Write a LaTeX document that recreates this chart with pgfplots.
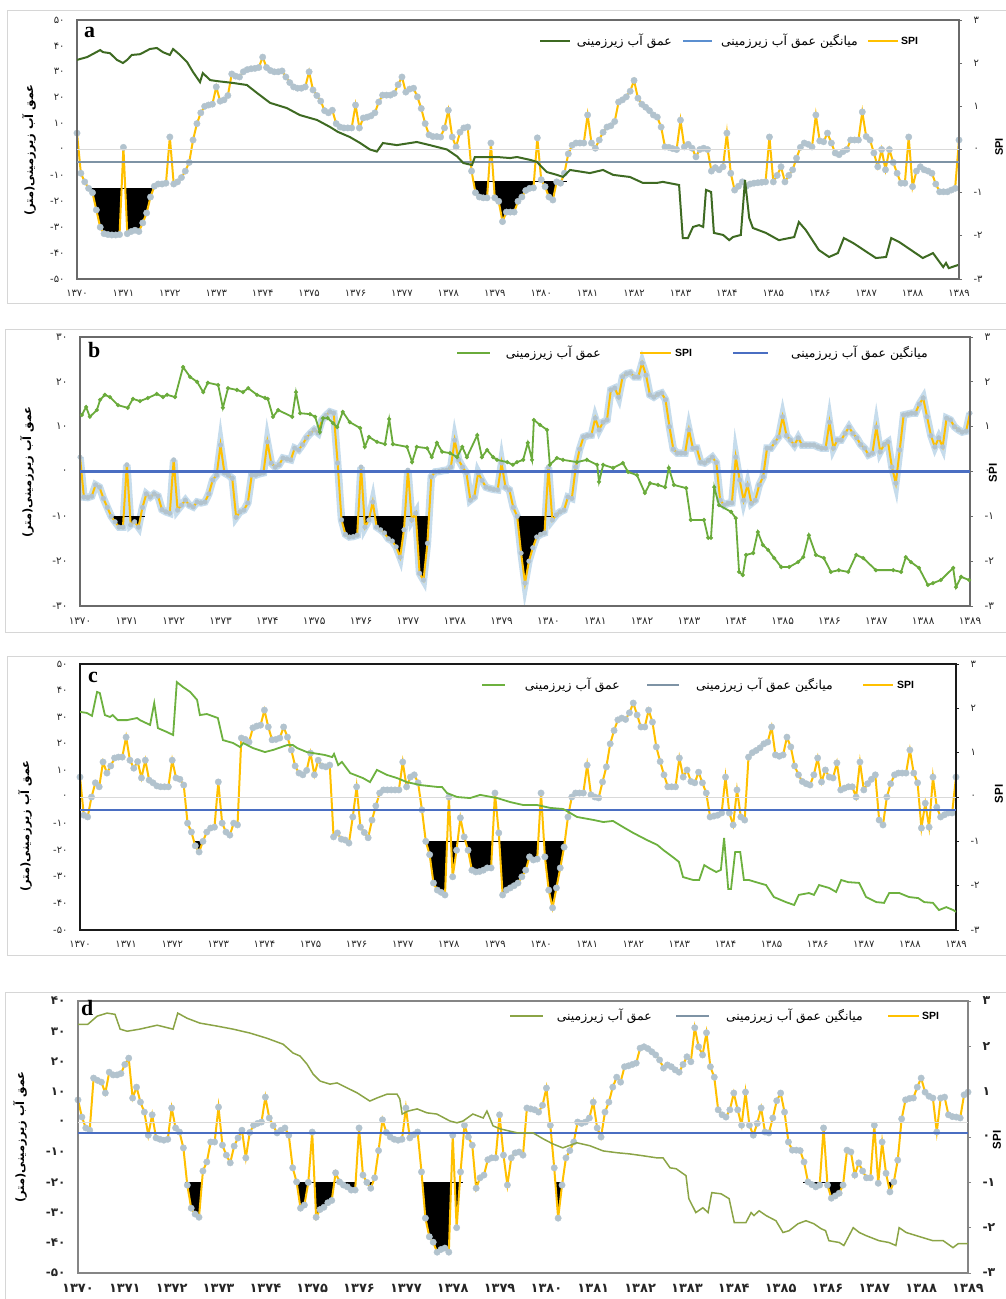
\documentclass[border=0pt]{standalone}
\usepackage{fontspec}
\setmainfont{Liberation Serif}
\newfontfamily\arabicfont[Script=Arabic]{DejaVu Sans}
\newfontfamily\dvs{DejaVu Sans}
\newfontfamily\lsans{Liberation Sans}
\usepackage{pgfplots}
\usepackage{pgfplotstable}
\pgfplotsset{compat=1.18}
\TeXXeTstate=1
\newcommand{\fa}[1]{{\arabicfont\beginR #1\endR}}
\newcommand{\mn}{{\dvs -}}
\definecolor{gA}{HTML}{3E6A22}
\definecolor{gB}{HTML}{6AAB3B}
\definecolor{gC}{HTML}{6DB13F}
\definecolor{gD}{HTML}{8BA446}
\definecolor{dotB}{HTML}{E2703A}
\definecolor{spiY}{HTML}{FFC000}
\definecolor{spiG}{HTML}{B2C3CE}
\definecolor{haloB}{HTML}{C6DCEC}
\definecolor{meanA}{HTML}{7E93A5}
\definecolor{meanB}{HTML}{4A6EC2}
\definecolor{legBlue}{HTML}{5B8FD0}
\definecolor{frameC}{HTML}{D6D6D6}
\definecolor{axA}{HTML}{6A6A6A}
\definecolor{axC}{HTML}{1A1A1A}
\definecolor{axD}{HTML}{858585}

\pgfplotsset{
  yrs/.style={xtick={1370,1371,1372,1373,1374,1375,1376,1377,1378,1379,1380,1381,1382,1383,1384,1385,1386,1387,1388,1389},
    xticklabels={۱۳۷۰,۱۳۷۱,۱۳۷۲,۱۳۷۳,۱۳۷۴,۱۳۷۵,۱۳۷۶,۱۳۷۷,۱۳۷۸,۱۳۷۹,۱۳۸۰,۱۳۸۱,۱۳۸۲,۱۳۸۳,۱۳۸۴,۱۳۸۵,۱۳۸۶,۱۳۸۷,۱۳۸۸,۱۳۸۹}},
  lax/.style 2 args={scale only axis, xmin=1370, xmax=1389, yrs,
    axis line style={draw=#1, line width=1.2bp}, major tick length=0pt,
    tick label style={font=\arabicfont\fontsize{#2}{#2}\selectfont, text=black!85},
    xticklabel style={yshift=-8bp}, yticklabel style={xshift=-9bp}},
  rax/.style 2 args={scale only axis, xmin=1370, xmax=1389, axis x line=none, axis y line*=right,
    ymin=-3, ymax=3, ytick={-3,-2,-1,0,1,2,3}, yticklabels={\mn۳,\mn۲,\mn۱,۰,۱,۲,۳},
    axis line style={draw=#1, line width=1.2bp}, tick style={draw=#1, line width=0.8bp},
    major tick length=3bp, tick align=outside,
    yticklabel style={font=\arabicfont\fontsize{#2}{#2}\selectfont, text=black!85, xshift=8bp}},
  blk/.style={hide axis, scale only axis, ymin=-3, clip=true},
  spiline/.style={spiY, line width=2bp},
  spimarks/.style={only marks, mark=*, color=spiG, mark size=3.2bp},
  thrline/.style={black, line width=0.8bp},
  lab50/.style={ymin=-50, ymax=50, ytick={-50,-40,-30,-20,-10,0,10,20,30,40,50},
    yticklabels={\mn۵۰,\mn۴۰,\mn۳۰,\mn۲۰,\mn۱۰,۰,۱۰,۲۰,۳۰,۴۰,۵۰}},
}

\pgfplotstableread[row sep=\\]{s\\
0.38\\ -0.55\\ -0.75\\ -0.9\\ -1.0\\ -1.4\\ -1.8\\ -1.95\\ -1.97\\ -1.98\\
-1.98\\ -1.97\\ 0.05\\ -1.95\\ -1.9\\ -1.87\\ -1.9\\ -1.7\\ -1.47\\ -1.1\\
-0.85\\ -0.8\\ -0.8\\ -0.78\\ 0.29\\ -0.8\\ -0.75\\ -0.65\\ -0.5\\ -0.3\\
0.22\\ 0.6\\ 0.85\\ 1.0\\ 1.03\\ 1.05\\ 1.45\\ 1.12\\ 1.15\\ 1.25\\
1.75\\ 1.7\\ 1.68\\ 1.8\\ 1.85\\ 1.87\\ 1.88\\ 1.9\\ 2.14\\ 1.9\\
1.83\\ 1.8\\ 1.8\\ 1.82\\ 1.68\\ 1.55\\ 1.45\\ 1.42\\ 1.42\\ 1.45\\
1.8\\ 1.38\\ 1.25\\ 1.12\\ 0.9\\ 0.85\\ 0.91\\ 0.6\\ 0.52\\ 0.5\\
0.5\\ 0.5\\ 1.03\\ 0.5\\ 0.73\\ 0.75\\ 0.78\\ 0.85\\ 1.1\\ 1.26\\
1.26\\ 1.26\\ 1.3\\ 1.5\\ 1.68\\ 1.33\\ 1.4\\ 1.42\\ 1.22\\ 0.95\\
0.6\\ 0.34\\ 0.3\\ 0.3\\ 0.29\\ 0.5\\ 0.91\\ 0.29\\ 0.06\\ 0.4\\
0.5\\ 0.52\\ -0.5\\ -1.0\\ -1.1\\ -1.12\\ -1.12\\ 0.15\\ -1.12\\ -1.2\\
-1.67\\ -1.45\\ -1.45\\ -1.45\\ -1.2\\ -1.1\\ -0.95\\ -0.9\\ -0.89\\ 0.27\\
-0.7\\ -0.86\\ -1.1\\ -1.17\\ -0.75\\ -0.78\\ -0.55\\ -0.1\\ 0.1\\ 0.15\\
0.15\\ 0.15\\ 0.8\\ 0.15\\ 0.03\\ 0.22\\ 0.4\\ 0.52\\ 0.55\\ 0.65\\
1.1\\ 1.15\\ 1.22\\ 1.35\\ 1.6\\ 1.19\\ 1.05\\ 0.98\\ 0.9\\ 0.8\\
0.75\\ 0.52\\ 0.06\\ 0.05\\ 0.02\\ 0\\ 0.68\\ 0.06\\ 0.12\\ 0.03\\
-0.17\\ 0\\ 0.03\\ 0\\ -0.5\\ -0.42\\ -0.47\\ -0.4\\ 0.38\\ -0.55\\
-0.94\\ -0.85\\ -0.75\\ -0.85\\ -0.8\\ -0.78\\ -0.77\\ -0.76\\ -0.75\\ 0.29\\
-0.75\\ -0.6\\ -0.4\\ -0.75\\ -0.6\\ -0.47\\ -0.2\\ 0.05\\ 0.15\\ 0.12\\
0.06\\ 0.8\\ 0.2\\ 0.18\\ 0.38\\ 0.15\\ -0.08\\ -0.12\\ -0.05\\ 0\\
0.22\\ 0.22\\ 0.22\\ 0.87\\ 0.3\\ 0.22\\ -0.08\\ -0.4\\ 0\\ -0.47\\
0\\ -0.3\\ -0.55\\ -0.78\\ -0.78\\ 0.29\\ -0.86\\ -0.5\\ -0.4\\ -0.47\\
-0.5\\ -0.55\\ -0.8\\ -0.98\\ -0.98\\ -0.98\\ -0.94\\ -0.9\\ 0.22\\
}\spiA

\pgfplotstableread[row sep=\\]{s\\
0.32\\ -0.57\\ -0.58\\ -0.55\\ -0.3\\ -0.35\\ -0.6\\ -0.8\\ -1.0\\ -1.12\\
-1.24\\ -1.24\\ 0.15\\ -1.19\\ -1.12\\ -1.24\\ -0.8\\ -0.5\\ -0.57\\ -0.5\\
-0.55\\ -0.85\\ -0.9\\ -0.93\\ 0.26\\ -0.86\\ -0.75\\ -0.64\\ -0.75\\ -0.79\\
-0.68\\ -0.7\\ -0.68\\ -0.5\\ -0.19\\ -0.08\\ 0.59\\ -0.03\\ -0.08\\ -0.15\\
-1.02\\ -0.9\\ -0.86\\ -0.7\\ -0.08\\ -0.08\\ -0.05\\ -0.03\\ 0.66\\ 0.19\\
0.1\\ 0.15\\ 0.3\\ 0.28\\ 0.26\\ 0.52\\ 0.48\\ 0.6\\ 0.75\\ 0.85\\
0.93\\ 0.86\\ 1.15\\ 1.25\\ 1.33\\ 1.3\\ 0.19\\ -1.08\\ -1.4\\ -1.46\\
-1.45\\ -1.42\\ 0.1\\ -1.24\\ -1.08\\ -0.68\\ -1.24\\ -1.3\\ -1.37\\ -1.5\\
-1.55\\ -1.68\\ -1.91\\ -1.3\\ 0.03\\ -1.08\\ -0.93\\ -2.27\\ -2.42\\ -1.6\\
-0.12\\ -0.01\\ 0\\ 0.02\\ 0.03\\ 0.1\\ 0.7\\ 0.26\\ 0.1\\ -0.03\\
-0.64\\ -0.57\\ -0.03\\ -0.2\\ -0.35\\ -0.38\\ -0.4\\ -0.41\\ 0.19\\ -0.35\\
-0.41\\ -0.8\\ -1.0\\ -1.82\\ -2.49\\ -2.0\\ -1.7\\ -1.46\\ -1.4\\ -1.37\\
0.1\\ -1.08\\ -0.97\\ -0.9\\ -0.86\\ -0.57\\ -0.6\\ 0.1\\ 0.5\\ 0.77\\
0.8\\ 0.81\\ 1.19\\ 0.93\\ 1.1\\ 1.15\\ 1.82\\ 1.86\\ 1.66\\ 2.11\\
2.18\\ 2.2\\ 2.11\\ 2.11\\ 2.42\\ 2.15\\ 1.71\\ 1.66\\ 1.72\\ 1.75\\
1.6\\ 1.0\\ 0.5\\ 0.41\\ 0.41\\ 0.41\\ 0.93\\ 0.52\\ 0.52\\ 0.21\\
0.19\\ 0.25\\ 0.32\\ 0.2\\ -0.64\\ -0.75\\ -0.71\\ -0.7\\ 0.32\\ -0.19\\
-0.64\\ -0.3\\ -0.71\\ -0.64\\ -0.3\\ -0.12\\ 0.52\\ 0.52\\ 0.65\\ 0.77\\
1.22\\ 0.8\\ 0.7\\ 0.59\\ 0.75\\ 0.59\\ 0.59\\ 0.59\\ 0.59\\ 0.55\\
0.52\\ 0.52\\ 1.1\\ 0.52\\ 0.7\\ 0.7\\ 0.85\\ 0.99\\ 0.85\\ 0.75\\
0.6\\ 0.52\\ 0.37\\ 0.41\\ 0.99\\ 0.44\\ 0.6\\ 0.66\\ 0.1\\ -0.26\\
0.48\\ 1.26\\ 1.28\\ 1.3\\ 1.3\\ 1.5\\ 1.64\\ 1.22\\ 0.8\\ 0.55\\
0.75\\ 0.55\\ 1.19\\ 1.15\\ 1.0\\ 0.93\\ 0.88\\ 0.9\\ 1.3\\
}\spiB

\pgfplotstableread[row sep=\\]{s\\
0.45\\ -0.41\\ -0.45\\ 0\\ 0.32\\ 0.23\\ 0.79\\ 0.54\\ 0.7\\ 0.88\\
0.9\\ 0.9\\ 1.35\\ 0.83\\ 0.65\\ 0.8\\ 0.43\\ 0.83\\ 0.38\\ 0.32\\
0.25\\ 0.23\\ 0.23\\ 0.23\\ 0.83\\ 0.43\\ 0.4\\ 0.27\\ -0.59\\ -0.79\\
-1.1\\ -1.24\\ -1.0\\ -0.79\\ -0.7\\ -0.68\\ 0.34\\ -0.59\\ -0.79\\ -0.86\\
-0.59\\ -0.63\\ 1.33\\ 1.3\\ 1.24\\ 1.56\\ 1.6\\ 1.62\\ 1.96\\ 1.58\\
1.29\\ 1.3\\ 1.33\\ 1.58\\ 1.35\\ 1.06\\ 0.7\\ 0.54\\ 0.5\\ 0.6\\
0.99\\ 0.5\\ 0.83\\ 0.7\\ 0.68\\ 0.72\\ -0.9\\ -0.81\\ -0.95\\ -0.97\\
-1.04\\ -0.45\\ 0.23\\ -0.68\\ -0.8\\ -0.92\\ -0.52\\ -0.2\\ 0.09\\ 0.16\\
0.16\\ 0.16\\ 0.16\\ 0.16\\ 0.79\\ 0.23\\ 0.45\\ 0.5\\ 0.32\\ -0.29\\
-1.0\\ -1.3\\ -1.94\\ -2.1\\ -2.15\\ -2.21\\ 0\\ -1.8\\ -1.2\\ -0.47\\
-0.9\\ -1.2\\ -1.65\\ -1.69\\ -1.68\\ -1.65\\ -1.6\\ -1.6\\ 0.09\\ -0.81\\
-2.21\\ -2.1\\ -2.05\\ -2.0\\ -1.94\\ -1.8\\ -1.65\\ -1.35\\ -1.42\\ -1.4\\
0.09\\ -1.35\\ -2.1\\ -2.5\\ -2.05\\ -1.6\\ -1.13\\ -0.45\\ 0\\ 0.09\\
0.09\\ 0.09\\ 0.72\\ 0.05\\ 0\\ -0.02\\ 0.34\\ 0.68\\ 1.2\\ 1.5\\
1.74\\ 1.78\\ 1.75\\ 1.9\\ 2.12\\ 1.85\\ 1.58\\ 1.58\\ 1.96\\ 1.69\\
1.13\\ 0.8\\ 0.5\\ 0.23\\ 0.23\\ 0.23\\ 0.88\\ 0.45\\ 0.61\\ 0.35\\
0.32\\ 0.56\\ 0.32\\ 0.09\\ -0.45\\ -0.43\\ -0.41\\ -0.36\\ 0.45\\ -0.36\\
-0.63\\ 0.16\\ -0.45\\ -0.52\\ 0.9\\ 1.0\\ 1.05\\ 1.11\\ 1.2\\ 1.24\\
1.58\\ 0.95\\ 0.92\\ 0.95\\ 1.35\\ 1.13\\ 0.7\\ 0.5\\ 0.35\\ 0.3\\
0.27\\ 0.5\\ 0.88\\ 0.34\\ 0.61\\ 0.45\\ 0.43\\ 0.77\\ 0.16\\ 0.2\\
0.23\\ 0.23\\ 0\\ 0.79\\ 0.16\\ 0.3\\ 0.4\\ 0.5\\ -0.52\\ -0.63\\
0\\ 0.3\\ 0.5\\ 0.54\\ 0.54\\ 0.54\\ 1.06\\ 0.54\\ 0.32\\ -0.7\\
-0.14\\ -0.68\\ 0.45\\ -0.23\\ -0.45\\ -0.4\\ -0.36\\ -0.36\\ 0.45\\
}\spiC

\pgfplotstableread[row sep=\\]{s\\
0.82\\ 0.44\\ 0.2\\ 0.15\\ 1.3\\ 1.25\\ 1.21\\ 0.97\\ 1.43\\ 1.37\\
1.37\\ 1.4\\ 1.6\\ 1.74\\ 0.86\\ 1.1\\ 0.77\\ 0.55\\ 0.04\\ 0.49\\
-0.02\\ -0.05\\ -0.07\\ -0.05\\ 0.64\\ 0.2\\ 0.11\\ -0.24\\ -1.06\\ -1.57\\
-1.7\\ -1.77\\ -0.75\\ -0.55\\ -0.11\\ -0.11\\ 0.66\\ -0.18\\ -0.4\\ -0.57\\
-0.2\\ -0.02\\ 0.15\\ -0.46\\ 0.1\\ 0.26\\ 0.3\\ 0.33\\ 0.88\\ 0.42\\
0.25\\ 0.09\\ 0.15\\ 0.2\\ 0.04\\ -0.68\\ -0.99\\ -1.57\\ -1.5\\ -1.0\\
0.11\\ -1.77\\ -1.6\\ -1.55\\ -1.45\\ -1.4\\ -0.79\\ -0.99\\ -1.06\\ -1.1\\
-1.17\\ -1.17\\ 0.2\\ -0.84\\ -1.0\\ -1.13\\ -0.9\\ -0.3\\ 0.38\\ 0.1\\
0\\ -0.05\\ -0.07\\ -0.05\\ 0.64\\ -0.02\\ 0.05\\ 0.11\\ -0.77\\ -1.79\\
-2.2\\ -2.32\\ -2.54\\ -2.48\\ -2.45\\ -2.54\\ 0.04\\ -2.0\\ -0.77\\ 0.26\\
0.0\\ -0.18\\ -1.13\\ -0.9\\ -0.84\\ -0.5\\ -0.46\\ -0.46\\ 0.49\\ -0.4\\
-1.06\\ -0.46\\ -0.35\\ -0.33\\ -0.4\\ 0.64\\ 0.62\\ 0.6\\ 0.55\\ 0.7\\
1.08\\ 0.26\\ -0.68\\ -1.79\\ -1.06\\ -0.46\\ -0.3\\ -0.11\\ 0.33\\ 0.3\\
0.33\\ 0.42\\ 0.77\\ 0.2\\ 0\\ 0.55\\ 0.77\\ 1.1\\ 1.32\\ 1.21\\
1.55\\ 1.57\\ 1.6\\ 1.63\\ 1.96\\ 1.99\\ 1.95\\ 1.88\\ 1.81\\ 1.7\\
1.52\\ 1.59\\ 1.55\\ 1.48\\ 1.43\\ 1.6\\ 1.77\\ 1.66\\ 2.41\\ 1.99\\
1.81\\ 2.3\\ 1.55\\ 1.32\\ 0.6\\ 0.49\\ 0.44\\ 0.6\\ 0.97\\ 0.6\\
0.26\\ 0.99\\ 0.26\\ 0.04\\ 0.3\\ 0.64\\ 0.11\\ 0.09\\ 0.42\\ 0.8\\
0.97\\ 0.55\\ -0.11\\ -0.29\\ -0.29\\ -0.3\\ -0.55\\ -0.99\\ -1.05\\ -1.1\\
-1.06\\ 0.2\\ -1.06\\ -1.35\\ -1.3\\ -1.24\\ -1.06\\ -0.29\\ -0.33\\ -0.84\\
-0.57\\ -0.75\\ -0.9\\ -0.9\\ 0.26\\ -1.02\\ -0.11\\ -0.8\\ -1.21\\ -0.99\\
-0.51\\ 0.4\\ 0.82\\ 0.85\\ 0.86\\ 1.1\\ 1.3\\ 0.99\\ 0.9\\ 0.86\\
0.11\\ 0.86\\ 0.88\\ 0.49\\ 0.45\\ 0.44\\ 0.42\\ 0.93\\ 0.99\\
}\spiD

\newcommand{\legfont}{\fontsize{12.5}{14}\selectfont}
\newcommand{\ylab}{\fa{عمق آب زیرزمینی(متر)}}
\newcommand{\lgA}{\fa{عمق آب زیرزمینی}}
\newcommand{\lgB}{\fa{میانگین عمق آب زیرزمینی}}
\newcommand{\spiT}{{\lsans\bfseries SPI}}
\newcommand{\blackfill}[1]{\addplot[fill=black, draw=none] table[x expr=1370+\coordindex/12, y=s] {#1} -- (axis cs:1389,4) -- (axis cs:1370,4) -- cycle;}

\begin{document}
\begin{tikzpicture}
\path[use as bounding box] (0,0) rectangle (1006bp,-1299bp);
% panel frames
\draw[frameC, line width=1bp] (7bp,-10bp) rectangle (1012bp,-303bp);
\draw[frameC, line width=1bp] (5bp,-329bp) rectangle (1012bp,-632bp);
\draw[frameC, line width=1bp] (7bp,-656bp) rectangle (1012bp,-955bp);
\draw[frameC, line width=1bp] (5bp,-992bp) rectangle (1012bp,-1310bp);

% ===================== PANEL A =====================
\begin{axis}[blk, xmin=1370, xmax=1372, ymax=-0.91, at={(77bp,-279bp)}, anchor=south west, width=92.84bp, height=90.22bp]
\blackfill{\spiA}
\end{axis}
\begin{axis}[blk, xmin=1378.3, xmax=1380.7, ymax=-0.75, at={(462.3bp,-279bp)}, anchor=south west, width=111.41bp, height=97.13bp]
\blackfill{\spiA}
\end{axis}
\begin{axis}[rax={axA}{10}, at={(77bp,-279bp)}, anchor=south west, width=882bp, height=259bp]
\addplot[thrline] coordinates {(1370.28,-0.91) (1371.62,-0.91)};
\addplot[thrline] coordinates {(1378.53,-0.75) (1380.56,-0.75)};
\addplot[spiline] table[x expr=1370+\coordindex/12, y=s] {\spiA};
\addplot[spimarks] table[x expr=1370+\coordindex/12, y=s] {\spiA};
\end{axis}
\begin{axis}[lax={axA}{10}, at={(77bp,-279bp)}, anchor=south west, width=882bp, height=259bp, lab50]
\addplot[gray!30, line width=0.8bp] coordinates {(1370,0) (1389,0)};
\addplot[meanA, line width=2bp] coordinates {(1370,-4.8) (1389,-4.8)};
\addplot[gA, line width=2bp] coordinates {(1370.0,34.6) (1370.22,35.7) (1370.5,38.4) (1370.56,37.6) (1370.71,37.2) (1370.86,34.6) (1370.99,33.4) (1371.08,34.6) (1371.18,36.5) (1371.36,36.8) (1371.57,38.8) (1371.72,39.2) (1371.85,37.6) (1372.0,36.5) (1372.07,38.8) (1372.22,36.5) (1372.37,33.8) (1372.5,29.9) (1372.65,26) (1372.71,29.5) (1372.87,26.8) (1373.02,26.4) (1373.36,25.7) (1373.66,24.9) (1373.88,21.8) (1374.16,18) (1374.52,16) (1374.8,13.3) (1375.17,11.4) (1375.45,8.7) (1375.62,6.8) (1375.88,4.8) (1376.1,2.5) (1376.31,0) (1376.46,-0.8) (1376.59,2.5) (1376.89,1.7) (1377.32,2.9) (1377.6,1.7) (1377.97,0) (1378.19,-2.7) (1378.32,-5.2) (1378.51,-6) (1378.57,-2.9) (1379.05,-2.9) (1379.33,-3.3) (1379.48,-2.9) (1379.76,-4) (1379.91,-4.8) (1379.97,-6) (1380.12,-8.7) (1380.34,-9.8) (1380.47,-10.6) (1380.62,-7.9) (1381.05,-9.1) (1381.33,-7.9) (1381.55,-9.8) (1381.91,-10.6) (1382.19,-12.9) (1382.49,-12.9) (1382.62,-12.5) (1382.97,-13.7) (1383.05,-34.2) (1383.16,-34.2) (1383.27,-29.9) (1383.4,-29.2) (1383.49,-29.9) (1383.55,-15.6) (1383.66,-16.4) (1383.72,-32.2) (1383.92,-33) (1384.05,-35) (1384.13,-33.8) (1384.3,-33) (1384.39,-11.8) (1384.48,-26.4) (1384.56,-30.3) (1384.84,-32.2) (1385.12,-35) (1385.45,-33.8) (1385.55,-28) (1385.7,-31.1) (1385.98,-38.8) (1386.2,-41.5) (1386.39,-40) (1386.52,-34.2) (1386.72,-36.1) (1387.21,-41.9) (1387.43,-41.5) (1387.54,-34.2) (1387.71,-35.7) (1388.22,-41.9) (1388.44,-40) (1388.66,-45.4) (1388.72,-43.8) (1388.78,-45.8) (1388.98,-44.6)};
\end{axis}
\node[anchor=base west, inner sep=0] at (84bp,-37bp) {\bfseries\fontsize{22}{22}\selectfont a};
\node[rotate=90, inner sep=0] at (29bp,-150bp) {\fontsize{11.5}{13}\selectfont\bfseries\ylab};
\node[rotate=90, inner sep=0] at (999bp,-147bp) {\fontsize{11}{12}\selectfont\spiT};
\draw[gA, line width=1.6bp] (540bp,-41bp) -- (570bp,-41bp);
\node[anchor=east, inner sep=0] at (672bp,-41bp) {\legfont\lgA};
\draw[legBlue, line width=1.6bp] (683bp,-41bp) -- (712bp,-41bp);
\node[anchor=east, inner sep=0] at (858bp,-41bp) {\legfont\lgB};
\draw[spiY, line width=1.6bp] (868bp,-41bp) -- (898bp,-41bp);
\node[anchor=west, inner sep=0] at (901bp,-41bp) {\fontsize{10.5}{12}\selectfont\spiT};

% ===================== PANEL B =====================
\begin{axis}[blk, xmin=1370, xmax=1389, ymax=3, at={(80bp,-606bp)}, anchor=south west, width=890bp, height=269bp]
\addplot[haloB, line width=7.5bp] table[x expr=1370+\coordindex/12, y=s] {\spiB};
\end{axis}
\begin{axis}[blk, xmin=1370, xmax=1389, ymax=-1, at={(80bp,-606bp)}, anchor=south west, width=890bp, height=89.67bp]
\blackfill{\spiB}
\end{axis}
\begin{axis}[rax={axA}{10.5}, at={(80bp,-606bp)}, anchor=south west, width=890bp, height=269bp]
\addplot[thrline] coordinates {(1370.64,-1) (1371.39,-1)};
\addplot[thrline] coordinates {(1375.61,-1) (1377.47,-1)};
\addplot[thrline] coordinates {(1379.29,-1) (1380.18,-1)};
\addplot[spiline] table[x expr=1370+\coordindex/12, y=s] {\spiB};
\addplot[only marks, mark=*, color=spiG, mark size=2.3bp] table[x expr=1370+\coordindex/12, y=s] {\spiB};
\end{axis}
\begin{axis}[lax={axA}{10.5}, at={(80bp,-606bp)}, anchor=south west, width=890bp, height=269bp,
  ymin=-30, ymax=30, ytick={-30,-20,-10,0,10,20,30},
  yticklabels={\mn۳۰,\mn۲۰,\mn۱۰,۰,۱۰,۲۰,۳۰}]
\addplot[gray!30, line width=0.8bp] coordinates {(1370,0) (1389,0)};
\addplot[meanB, line width=2.4bp] coordinates {(1370,0) (1389,0)};
\addplot[gB, line width=1.8bp, mark=*, mark size=1bp, mark options={fill=dotB, draw=none}] coordinates {(1370.04,12.6) (1370.13,14.4) (1370.21,12.2) (1370.36,13.7) (1370.43,16) (1370.53,17.1) (1370.64,16.6) (1370.81,14.8) (1371.02,14.2) (1371.13,16.2) (1371.28,15.7) (1371.45,16.4) (1371.64,17.3) (1371.77,16.6) (1371.86,17.1) (1372.03,16.6) (1372.2,23.3) (1372.35,21.1) (1372.5,20) (1372.63,17.7) (1372.73,19.8) (1372.95,19.3) (1373.05,14.2) (1373.16,18.6) (1373.35,18.2) (1373.48,17.7) (1373.59,18.6) (1373.78,17.1) (1373.95,16.4) (1374.01,16.2) (1374.12,12.2) (1374.23,13.7) (1374.53,12.2) (1374.61,17.7) (1374.7,13) (1374.91,12.8) (1375.02,12.2) (1375.12,8.8) (1375.19,11.9) (1375.29,11.9) (1375.4,10.8) (1375.49,9.9) (1375.61,13.3) (1375.76,11) (1375.98,9.7) (1376.08,5.5) (1376.17,7.7) (1376.34,6.6) (1376.51,6.1) (1376.6,11.7) (1376.68,6.1) (1376.98,5.5) (1377.09,2.1) (1377.19,5.5) (1377.41,5.2) (1377.51,3.2) (1377.62,6.4) (1377.73,4.4) (1377.9,4.1) (1378.05,3.2) (1378.16,5.5) (1378.26,3.2) (1378.48,8.1) (1378.58,3.2) (1378.69,4.8) (1378.82,3.2) (1378.9,2.6) (1379.12,2.1) (1379.24,1.5) (1379.33,2.1) (1379.46,2.6) (1379.56,6.4) (1379.65,2.6) (1379.69,11.5) (1379.82,10.4) (1379.97,9.3) (1380.03,1.5) (1380.18,3) (1380.31,2.6) (1380.61,2.1) (1380.82,2.6) (1381.04,1.5) (1381.08,-2.3) (1381.17,1.5) (1381.38,0.8) (1381.59,1.9) (1381.7,-0.1) (1381.89,-0.8) (1382.06,-4.8) (1382.17,-2.6) (1382.34,-3) (1382.49,-3.5) (1382.57,0.8) (1382.68,-3) (1382.94,-3.7) (1383.04,-10.8) (1383.32,-10.8) (1383.41,-14.8) (1383.47,-14.8) (1383.54,-3.5) (1383.64,-7.5) (1383.9,-9) (1384.0,-10.4) (1384.07,-22.4) (1384.15,-23.1) (1384.22,-18.6) (1384.37,-18.2) (1384.47,-13.5) (1384.58,-16.4) (1384.69,-17.5) (1384.82,-19.3) (1384.97,-21.3) (1385.14,-21.3) (1385.33,-20.2) (1385.44,-19.1) (1385.56,-14.2) (1385.71,-18.6) (1385.88,-19.3) (1386.03,-22.4) (1386.2,-22) (1386.4,-22.4) (1386.57,-18.6) (1386.72,-19.3) (1386.99,-22) (1387.36,-22) (1387.53,-22.4) (1387.63,-19.1) (1387.74,-20.2) (1387.91,-21.5) (1388.1,-25.3) (1388.21,-24.9) (1388.38,-24.2) (1388.64,-21.5) (1388.7,-25.8) (1388.81,-23.5) (1388.98,-24.2)};
\end{axis}
\node[anchor=base west, inner sep=0] at (88bp,-357bp) {\bfseries\fontsize{22}{22}\selectfont b};
\node[rotate=90, inner sep=0] at (27bp,-472bp) {\fontsize{11.5}{13}\selectfont\bfseries\ylab};
\node[rotate=90, inner sep=0] at (993bp,-473bp) {\fontsize{11.5}{12}\selectfont\spiT};
\draw[gB, line width=1.8bp] (457bp,-353bp) -- (490bp,-353bp);
\node[anchor=east, inner sep=0] at (601bp,-353bp) {\legfont\lgA};
\draw[spiY, line width=1.6bp] (640bp,-353bp) -- (671bp,-353bp);
\node[anchor=west, inner sep=0] at (675bp,-353bp) {\fontsize{10.5}{12}\selectfont\spiT};
\draw[meanB, line width=2bp] (733bp,-353bp) -- (768bp,-353bp);
\node[anchor=east, inner sep=0] at (928bp,-353bp) {\legfont\lgB};

% ===================== PANEL C =====================
\begin{axis}[blk, xmin=1370, xmax=1389, ymax=-1, at={(80bp,-930bp)}, anchor=south west, width=876bp, height=88.67bp]
\blackfill{\spiC}
\end{axis}
\begin{axis}[rax={axC}{10}, at={(80bp,-930bp)}, anchor=south west, width=876bp, height=266bp]
\addplot[thrline] coordinates {(1377.44,-1) (1380.48,-1)};
\addplot[spiline] table[x expr=1370+\coordindex/12, y=s] {\spiC};
\addplot[spimarks] table[x expr=1370+\coordindex/12, y=s] {\spiC};
\end{axis}
\begin{axis}[lax={axC}{10}, at={(80bp,-930bp)}, anchor=south west, width=876bp, height=266bp, lab50]
\addplot[gray!30, line width=0.8bp] coordinates {(1370,0) (1389,0)};
\addplot[meanB, line width=2.4bp] coordinates {(1370,-4.9) (1389,-4.9)};
\addplot[gC, line width=1.8bp] coordinates {(1370.0,32) (1370.15,31.6) (1370.26,30.5) (1370.37,39.5) (1370.43,39.1) (1370.54,30.8) (1370.65,30.1) (1370.71,30.8) (1370.82,28.9) (1371.02,28.9) (1371.24,29.7) (1371.3,28.9) (1371.52,27.1) (1371.61,35.3) (1371.69,25.9) (1371.89,24.4) (1372.02,23.3) (1372.1,43.2) (1372.23,41.4) (1372.39,39.5) (1372.54,36.5) (1372.6,30.8) (1372.75,31.2) (1372.99,29.7) (1373.1,21.4) (1373.32,20.3) (1373.47,18.8) (1373.54,20.3) (1373.75,18.4) (1374.01,16.9) (1374.19,17.7) (1374.49,19.5) (1374.62,19.5) (1374.71,18.4) (1374.92,16.9) (1375.31,15.8) (1375.47,15) (1375.51,16.2) (1375.6,12) (1375.68,13.2) (1375.86,9) (1376.14,7.1) (1376.29,5.6) (1376.44,10.2) (1376.66,8.3) (1376.88,7.1) (1377.09,5.6) (1377.38,4.5) (1377.74,3.8) (1377.85,3.8) (1377.96,1.5) (1378.18,0) (1378.46,-0.4) (1378.68,0.8) (1379.05,-0.4) (1379.33,-1.9) (1379.61,-3) (1379.91,-3) (1380.2,-4.1) (1380.48,-4.5) (1380.78,-7.5) (1381.13,-8.6) (1381.35,-9.4) (1381.56,-9) (1381.78,-11.3) (1382.0,-13.5) (1382.3,-16.2) (1382.52,-18) (1382.65,-19.9) (1382.86,-22.6) (1382.99,-24.4) (1383.08,-30.1) (1383.3,-31.2) (1383.43,-31.2) (1383.54,-25.6) (1383.64,-26.7) (1383.8,-28.2) (1383.9,-27.4) (1383.97,-15.4) (1384.06,-34.6) (1384.12,-34.6) (1384.21,-20.7) (1384.32,-20.7) (1384.4,-31.2) (1384.51,-31.2) (1384.66,-32) (1384.88,-33.1) (1385.05,-37.6) (1385.31,-39.5) (1385.49,-40.6) (1385.59,-36.8) (1385.81,-36.1) (1385.92,-36.8) (1386.03,-33.1) (1386.25,-34.2) (1386.4,-35.7) (1386.51,-31.2) (1386.66,-32) (1386.9,-32.3) (1387.05,-37.6) (1387.27,-39.5) (1387.44,-39.8) (1387.55,-36.1) (1387.77,-36.1) (1387.98,-37.6) (1388.18,-38) (1388.31,-39.5) (1388.5,-39.8) (1388.63,-42.5) (1388.79,-41.4) (1388.94,-42.5) (1389.0,-43.2)};
\end{axis}
\node[anchor=base west, inner sep=0] at (88bp,-682bp) {\bfseries\fontsize{22}{22}\selectfont c};
\node[rotate=90, inner sep=0] at (25bp,-826bp) {\fontsize{11.5}{13}\selectfont\bfseries\ylab};
\node[rotate=90, inner sep=0] at (999bp,-794bp) {\fontsize{11.5}{12}\selectfont\spiT};
\draw[gC, line width=1.8bp] (482bp,-685bp) -- (505bp,-685bp);
\node[anchor=east, inner sep=0] at (620bp,-685bp) {\legfont\lgA};
\draw[meanA, line width=1.8bp] (647bp,-685bp) -- (679bp,-685bp);
\node[anchor=east, inner sep=0] at (833bp,-685bp) {\legfont\lgB};
\draw[spiY, line width=1.6bp] (863bp,-685bp) -- (893bp,-685bp);
\node[anchor=west, inner sep=0] at (897bp,-685bp) {\fontsize{10.5}{12}\selectfont\spiT};

% ===================== PANEL D =====================
\begin{axis}[blk, xmin=1370, xmax=1389, ymax=-1, at={(78bp,-1273bp)}, anchor=south west, width=890bp, height=90.67bp]
\blackfill{\spiD}
\end{axis}
\begin{axis}[rax={axD}{12.5}, at={(78bp,-1273bp)}, anchor=south west, width=890bp, height=272bp,
  yticklabel style={font=\arabicfont\bfseries\fontsize{12.5}{12.5}\selectfont}]
\addplot[thrline] coordinates {(1372.28,-1) (1372.67,-1)};
\addplot[thrline] coordinates {(1374.78,-1) (1375.9,-1)};
\addplot[thrline] coordinates {(1377.37,-1) (1378.22,-1)};
\addplot[thrline] coordinates {(1385.48,-1) (1386.33,-1)};
\addplot[spiline] table[x expr=1370+\coordindex/12, y=s] {\spiD};
\addplot[spimarks] table[x expr=1370+\coordindex/12, y=s] {\spiD};
\end{axis}
\begin{axis}[lax={axD}{12.5}, at={(78bp,-1273bp)}, anchor=south west, width=890bp, height=272bp,
  ymin=-50, ymax=40, ytick={-50,-40,-30,-20,-10,0,10,20,30,40},
  yticklabels={\mn۵۰,\mn۴۰,\mn۳۰,\mn۲۰,\mn۱۰,۰,۱۰,۲۰,۳۰,۴۰},
  yticklabel style={font=\arabicfont\bfseries\fontsize{12}{12}\selectfont},
  xticklabel style={font=\arabicfont\bfseries\fontsize{13}{13}\selectfont}]
\addplot[gray!30, line width=0.8bp] coordinates {(1370,0) (1389,0)};
\addplot[meanB, line width=2.4bp] coordinates {(1370,-3.7) (1389,-3.7)};
\addplot[gD, line width=1.5bp] coordinates {(1370.0,32.3) (1370.21,32.3) (1370.41,35) (1370.62,36) (1370.79,35.6) (1370.9,30.7) (1371.05,30) (1371.32,30.7) (1371.69,32) (1372.03,30.7) (1372.13,36) (1372.33,34.3) (1372.6,32.7) (1372.97,31.7) (1373.31,30.7) (1373.67,29.4) (1374.03,27.7) (1374.38,25.7) (1374.59,22.8) (1374.74,21.8) (1374.89,19.1) (1375.02,15.8) (1375.17,13.5) (1375.38,12.5) (1375.53,12.9) (1375.66,11.9) (1375.96,9.6) (1376.23,6.9) (1376.38,7.9) (1376.6,9.2) (1376.81,9.2) (1376.87,7.6) (1376.92,2.6) (1377.05,3.6) (1377.24,4.3) (1377.45,3) (1377.66,2.6) (1377.94,0.3) (1378.09,-0.3) (1378.22,0.3) (1378.43,2.6) (1378.65,1.3) (1378.73,3.6) (1378.86,-1.3) (1379.01,-2.3) (1379.37,-3.6) (1379.71,-3.6) (1379.93,-5.6) (1380.14,-7.3) (1380.35,-8.6) (1380.65,-6.9) (1380.93,-7.9) (1381.21,-9.6) (1381.51,-10.2) (1381.78,-10.6) (1382.06,-11.2) (1382.36,-11.9) (1382.49,-11.9) (1382.64,-15.2) (1382.77,-15.5) (1382.98,-17.8) (1383.04,-25.4) (1383.19,-30) (1383.34,-28.4) (1383.45,-30) (1383.53,-23.4) (1383.73,-23.8) (1383.9,-25.4) (1384.01,-33.3) (1384.11,-33.3) (1384.26,-33.3) (1384.37,-30) (1384.43,-31) (1384.54,-29.4) (1384.69,-31) (1384.9,-32.7) (1385.05,-36.6) (1385.18,-36) (1385.37,-33.7) (1385.54,-32.7) (1385.71,-33.7) (1385.86,-35.3) (1385.96,-36) (1386.03,-39.3) (1386.25,-39.9) (1386.35,-40.9) (1386.55,-35) (1386.68,-36.6) (1386.82,-37.6) (1387.1,-39.3) (1387.31,-39.9) (1387.46,-40.9) (1387.53,-35) (1387.68,-36.6) (1387.89,-37.6) (1388.1,-38.6) (1388.25,-39.3) (1388.47,-39.3) (1388.68,-41.6) (1388.79,-40.3) (1389.0,-40.3)};
\end{axis}
\node[anchor=base west, inner sep=0] at (81bp,-1015bp) {\bfseries\fontsize{22}{22}\selectfont d};
\node[rotate=90, inner sep=0] at (20bp,-1137bp) {\fontsize{11.5}{13}\selectfont\bfseries\ylab};
\node[rotate=90, inner sep=0] at (997bp,-1140bp) {\fontsize{11.5}{12}\selectfont\spiT};
\draw[gD, line width=1.6bp] (510bp,-1016bp) -- (543bp,-1016bp);
\node[anchor=east, inner sep=0] at (652bp,-1016bp) {\legfont\lgA};
\draw[meanA, line width=1.6bp] (676bp,-1016bp) -- (709bp,-1016bp);
\node[anchor=east, inner sep=0] at (863bp,-1016bp) {\legfont\lgB};
\draw[spiY, line width=1.6bp] (888bp,-1016bp) -- (919bp,-1016bp);
\node[anchor=west, inner sep=0] at (922bp,-1016bp) {\fontsize{10.5}{12}\selectfont\spiT};
\end{tikzpicture}
\end{document}
